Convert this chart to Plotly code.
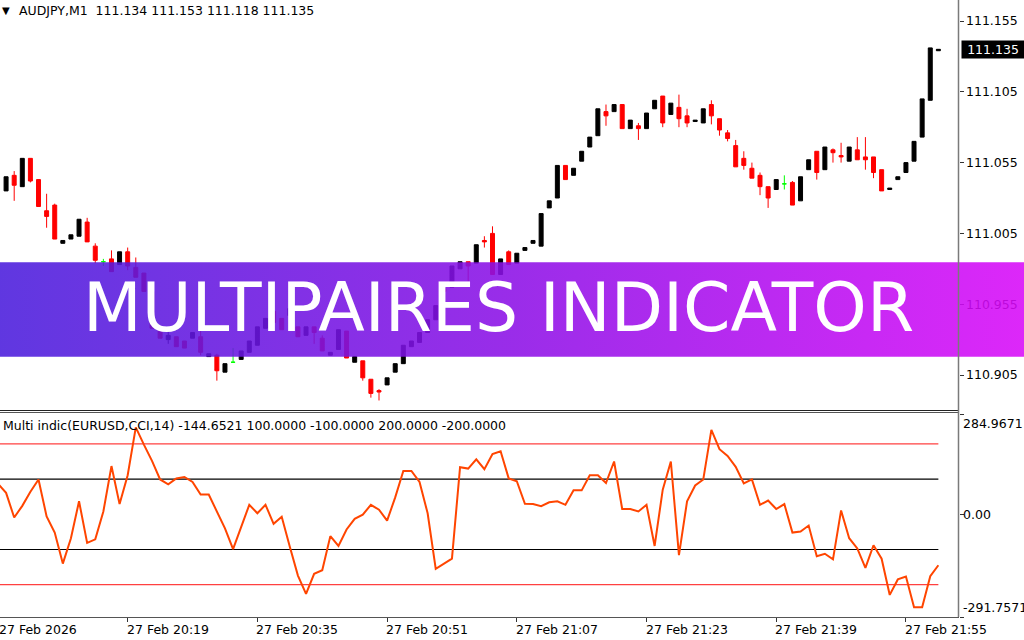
import pandas as pd
import plotly.graph_objects as go

W, H = 1024, 640

symbol_info = "AUDJPY,M1\u00a0\u00a0111.134 111.153 111.118 111.135"
indicator_info = "Multi indic(EURUSD,CCI,14) -144.6521 100.0000 -100.0000 200.0000 -200.0000"
banner_text = "MULTIPAIRES INDICATOR"

# M1 bars; the indicator has one more bar on the left edge
cci_times = pd.date_range("2026-02-27 20:03", periods=117, freq="min")
bar_times = list(cci_times[1:])

open_ = [
    111.035, 111.046, 111.038, 111.058, 111.043, 111.021, 111.025, 110.998, 111.001, 111.003,
    111.013, 110.996, 110.985, 110.987, 110.983, 110.992, 110.981, 110.977, 110.964, 110.938,
    110.930, 110.932, 110.929, 110.931, 110.932, 110.918, 110.919, 110.907, 110.914, 110.916,
    110.921, 110.926, 110.938, 110.950, 110.945, 110.947, 110.939, 110.933, 110.939, 110.931,
    110.919, 110.923, 110.936, 110.914, 110.915, 110.902, 110.894, 110.898, 110.907, 110.913,
    110.925, 110.928, 110.935, 110.944, 110.966, 110.967, 110.980, 110.985, 110.984, 111.000,
    111.005, 110.976, 110.992, 110.984, 110.993, 110.998, 110.996, 111.023, 111.030, 111.053,
    111.046, 111.056, 111.066, 111.074, 111.091, 111.091, 111.096, 111.079, 111.081, 111.079,
    111.093, 111.102, 111.089, 111.094, 111.088, 111.084, 111.083, 111.096, 111.086, 111.076,
    111.067, 111.058, 111.051, 111.046, 111.038, 111.036, 111.040, 111.041, 111.028, 111.050,
    111.063, 111.050, 111.064, 111.060, 111.056, 111.064, 111.059, 111.059, 111.050, 111.036,
    111.043, 111.048, 111.056, 111.073, 111.099, 111.134,
]
high = [
    111.045, 111.049, 111.058, 111.058, 111.043, 111.033, 111.026, 111.000, 111.004, 111.015,
    111.016, 110.998, 110.987, 110.993, 110.992, 110.995, 110.988, 110.977, 110.964, 110.938,
    110.936, 110.932, 110.929, 110.935, 110.937, 110.920, 110.920, 110.913, 110.924, 110.922,
    110.929, 110.939, 110.945, 110.950, 110.945, 110.952, 110.939, 110.939, 110.939, 110.933,
    110.921, 110.937, 110.936, 110.918, 110.915, 110.902, 110.895, 110.903, 110.913, 110.926,
    110.929, 110.935, 110.944, 110.954, 110.966, 110.982, 110.985, 110.985, 110.997, 111.003,
    111.010, 110.987, 110.993, 110.991, 110.995, 111.000, 111.019, 111.028, 111.053, 111.053,
    111.051, 111.063, 111.073, 111.093, 111.096, 111.096, 111.096, 111.085, 111.083, 111.090,
    111.099, 111.102, 111.097, 111.103, 111.093, 111.085, 111.093, 111.099, 111.086, 111.078,
    111.071, 111.063, 111.055, 111.048, 111.038, 111.043, 111.046, 111.042, 111.045, 111.057,
    111.063, 111.066, 111.065, 111.069, 111.066, 111.073, 111.073, 111.059, 111.050, 111.037,
    111.045, 111.055, 111.070, 111.100, 111.136, 111.135,
]
low = [
    111.035, 111.028, 111.038, 111.041, 111.024, 111.009, 111.001, 110.998, 111.001, 111.003,
    110.999, 110.984, 110.982, 110.978, 110.983, 110.979, 110.974, 110.964, 110.938, 110.931,
    110.927, 110.925, 110.924, 110.931, 110.919, 110.918, 110.901, 110.907, 110.914, 110.916,
    110.921, 110.926, 110.938, 110.942, 110.937, 110.947, 110.932, 110.933, 110.927, 110.922,
    110.919, 110.923, 110.917, 110.914, 110.901, 110.889, 110.887, 110.898, 110.907, 110.913,
    110.925, 110.928, 110.935, 110.944, 110.947, 110.967, 110.980, 110.971, 110.984, 110.995,
    110.976, 110.976, 110.983, 110.984, 110.993, 110.998, 110.996, 111.023, 111.030, 111.043,
    111.046, 111.056, 111.066, 111.074, 111.081, 111.091, 111.079, 111.079, 111.071, 111.079,
    111.093, 111.080, 111.089, 111.080, 111.080, 111.084, 111.083, 111.082, 111.074, 111.070,
    111.052, 111.050, 111.044, 111.032, 111.023, 111.036, 111.036, 111.025, 111.028, 111.050,
    111.043, 111.050, 111.055, 111.055, 111.056, 111.057, 111.050, 111.044, 111.035, 111.036,
    111.043, 111.048, 111.056, 111.073, 111.099, 111.134,
]
close = [
    111.045, 111.039, 111.058, 111.042, 111.024, 111.017, 111.001, 111.000, 111.004, 111.015,
    110.999, 110.986, 110.985, 110.978, 110.992, 110.982, 110.974, 110.964, 110.938, 110.931,
    110.933, 110.925, 110.924, 110.935, 110.921, 110.920, 110.908, 110.913, 110.914, 110.922,
    110.929, 110.939, 110.945, 110.942, 110.937, 110.952, 110.932, 110.939, 110.935, 110.922,
    110.921, 110.937, 110.917, 110.918, 110.903, 110.892, 110.893, 110.903, 110.913, 110.926,
    110.929, 110.935, 110.944, 110.954, 110.964, 110.982, 110.985, 110.982, 110.997, 110.999,
    110.976, 110.987, 110.983, 110.991, 110.995, 111.000, 111.019, 111.028, 111.053, 111.043,
    111.051, 111.063, 111.073, 111.093, 111.088, 111.096, 111.079, 111.085, 111.079, 111.090,
    111.099, 111.083, 111.097, 111.086, 111.083, 111.085, 111.093, 111.088, 111.078, 111.072,
    111.052, 111.053, 111.044, 111.038, 111.030, 111.043, 111.040, 111.025, 111.045, 111.057,
    111.048, 111.066, 111.062, 111.059, 111.066, 111.057, 111.057, 111.048, 111.035, 111.037,
    111.045, 111.055, 111.070, 111.100, 111.136, 111.135,
]

cci = [
    87, 61, -9, 24, 64, 99, -6, -52, -140, -68,
    37, -81, -71, 8, 137, 29, 111, 247, 198, 152,
    99, 85, 102, 106, 92, 56, 56, 6, -40, -99,
    -35, 27, 3, 27, -27, -7, -92, -174, -226, -169,
    -159, -62, -90, -43, -13, -1, 27, 13, -18, 48,
    123, 123, 92, 3, -155, -140, -126, 134, 130, 156,
    128, 171, 179, 102, 94, 30, 29, 23, 34, 37,
    27, 68, 68, 111, 111, 89, 150, 15, 15, 8,
    27, -90, 70, 150, -116, 37, 82, 99, 240, 185,
    166, 135, 88, 99, 27, 39, 15, 29, -52, -49,
    -32, -119, -112, -128, 11, -68, -97, -152, -88, -126,
    -229, -185, -177, -264, -264, -176, -144.6521,
]
levels = [200, 100, -100, -200]
level_colors = ["#ff4040", "#000000", "#000000", "#ff4040"]

price_ticks = [110.905, 110.955, 111.005, 111.055, 111.105, 111.155]
last_price = 111.135
cci_min, cci_max = -291.7571, 284.9671

time_ticks = ["2026-02-27 20:03", "2026-02-27 20:19", "2026-02-27 20:35", "2026-02-27 20:51",
              "2026-02-27 21:07", "2026-02-27 21:23", "2026-02-27 21:39", "2026-02-27 21:55"]
time_labels = ["27 Feb 2026", "27 Feb 20:19", "27 Feb 20:35", "27 Feb 20:51",
               "27 Feb 21:07", "27 Feb 21:23", "27 Feb 21:39", "27 Feb 21:55"]

x_range = ["2026-02-27 20:03:15", "2026-02-27 22:01:29"]


def px(x):
    return x / W


def py(y):
    return 1 - y / H


doji = [o == c for o, c in zip(open_, close)]


def pick(seq, keep):
    return [v for v, d in zip(seq, doji) if d == keep]


fig = go.Figure()

# candles (bull black, bear red)
fig.add_trace(go.Candlestick(
    x=pick(bar_times, False), open=pick(open_, False), high=pick(high, False),
    low=pick(low, False), close=pick(close, False),
    increasing=dict(line=dict(color="#000000", width=1), fillcolor="#000000"),
    decreasing=dict(line=dict(color="#ff0000", width=1), fillcolor="#ff0000"),
    hoverinfo="skip", showlegend=False,
))
# doji bars in green
fig.add_trace(go.Candlestick(
    x=pick(bar_times, True), open=pick(open_, True), high=pick(high, True),
    low=pick(low, True), close=pick(close, True),
    increasing=dict(line=dict(color="#00ff00", width=1), fillcolor="#00ff00"),
    decreasing=dict(line=dict(color="#00ff00", width=1), fillcolor="#00ff00"),
    hoverinfo="skip", showlegend=False,
))

# indicator levels and CCI line
for lvl, col in zip(levels, level_colors):
    fig.add_trace(go.Scatter(
        x=[cci_times[0], cci_times[-1]], y=[lvl, lvl], mode="lines",
        line=dict(color=col, width=1.2), xaxis="x2", yaxis="y2",
        hoverinfo="skip", showlegend=False,
    ))
fig.add_trace(go.Scatter(
    x=cci_times, y=cci, mode="lines", line=dict(color="#ff4500", width=2),
    xaxis="x2", yaxis="y2", hoverinfo="skip", showlegend=False,
))

# gradient banner over the chart
fig.add_trace(go.Scatter(
    x=[0, W, W, 0, 0], y=[262.3, 262.3, 356.7, 356.7, 262.3],
    mode="lines", fill="toself", line=dict(width=0),
    fillgradient=dict(type="horizontal",
                      colorscale=[[0, "#4a1cdc"], [0.5, "#8c10e6"], [1, "#d80af8"]]),
    opacity=0.88, xaxis="x3", yaxis="y3", hoverinfo="skip", showlegend=False,
))

ui_font = dict(family="DejaVu Sans", size=12.5, color="#000000")

annotations = [
    dict(text="\u25bc", x=px(6), y=py(10), font=dict(family="DejaVu Sans", size=10, color="#000000")),
    dict(text=symbol_info, x=px(17), y=py(10), xanchor="left", font=ui_font),
    dict(text=indicator_info, x=px(1), y=py(425.5), xanchor="left", font=ui_font),
    dict(text=banner_text, x=px(498.5), y=py(307),
         font=dict(family="DejaVu Sans", size=68, color="#ffffff")),
    dict(text=f"{last_price:.3f}", x=px(961), y=last_price, yref="y", xanchor="left",
         bgcolor="#000000", borderpad=1, width=60, font=dict(family="DejaVu Sans", size=12.5, color="#ffffff")),
    dict(text=f"{cci_max:.4f}", x=px(961), y=cci_max, yref="y2", xanchor="left", yanchor="top", font=ui_font),
    dict(text="0.00", x=px(961), y=0, yref="y2", xanchor="left", font=ui_font),
    dict(text=f"{cci_min:.4f}", x=px(961), y=cci_min, yref="y2", xanchor="left", yanchor="bottom", font=ui_font),
]
for i, (t, lbl) in enumerate(zip(time_ticks, time_labels)):
    annotations.append(dict(
        text=lbl, x=x_range[0] if i == 0 else t, xref="x2", y=py(629.5),
        xanchor="left", xshift=-3, font=ui_font,
    ))
for a in annotations:
    a.setdefault("xref", "paper")
    a.setdefault("yref", "paper")
    a.setdefault("xanchor", "center")
    a.setdefault("yanchor", "middle")
    a.setdefault("showarrow", False)

shapes = [
    dict(type="line", xref="paper", yref="paper", x0=0, x1=px(958.5), y0=py(410.5), y1=py(410.5),
         line=dict(color="#222222", width=1)),
    dict(type="line", xref="paper", yref="paper", x0=0, x1=px(958.5), y0=py(412.5), y1=py(412.5),
         line=dict(color="#555555", width=1)),
    dict(type="line", xref="paper", yref="paper", x0=px(958.5), x1=px(958.5), y0=py(0), y1=py(617),
         line=dict(color="#7a7a7a", width=1.5)),
]

fig.update_layout(
    width=W, height=H, margin=dict(l=0, r=0, t=0, b=0),
    paper_bgcolor="#ffffff", plot_bgcolor="rgba(0,0,0,0)",
    showlegend=False, hovermode=False, font=ui_font,
    xaxis=dict(domain=[0, px(958.5)], range=x_range, type="date", showticklabels=False,
               ticks="", showgrid=False, zeroline=False, rangeslider=dict(visible=False)),
    yaxis=dict(domain=[py(410), 1], range=[110.88028, 111.16983], side="right",
               tickvals=price_ticks, ticktext=[f"{v:.3f}" for v in price_ticks],
               ticks="outside", ticklen=4, tickcolor="#333333", tickfont=ui_font,
               showgrid=False, zeroline=False),
    xaxis2=dict(domain=[0, px(958.5)], range=x_range, type="date", anchor="y2",
                tickvals=time_ticks, ticks="outside", ticklen=4, tickcolor="#333333",
                showticklabels=False, showline=True, linecolor="#555555",
                showgrid=False, zeroline=False),
    yaxis2=dict(domain=[py(617), py(414)], range=[cci_min, cci_max], side="right", anchor="x2",
                tickvals=[cci_max, 0, cci_min], ticks="outside", ticklen=4, tickcolor="#333333",
                showticklabels=False, showgrid=False, zeroline=False),
    xaxis3=dict(domain=[0, 1], range=[0, W], visible=False, anchor="y3", fixedrange=True),
    yaxis3=dict(domain=[0, 1], range=[H, 0], visible=False, anchor="x3", fixedrange=True),
    annotations=annotations,
    shapes=shapes,
)

fig.write_html("out.html", config={"displayModeBar": False},
               post_script="document.body.style.margin='0';")
